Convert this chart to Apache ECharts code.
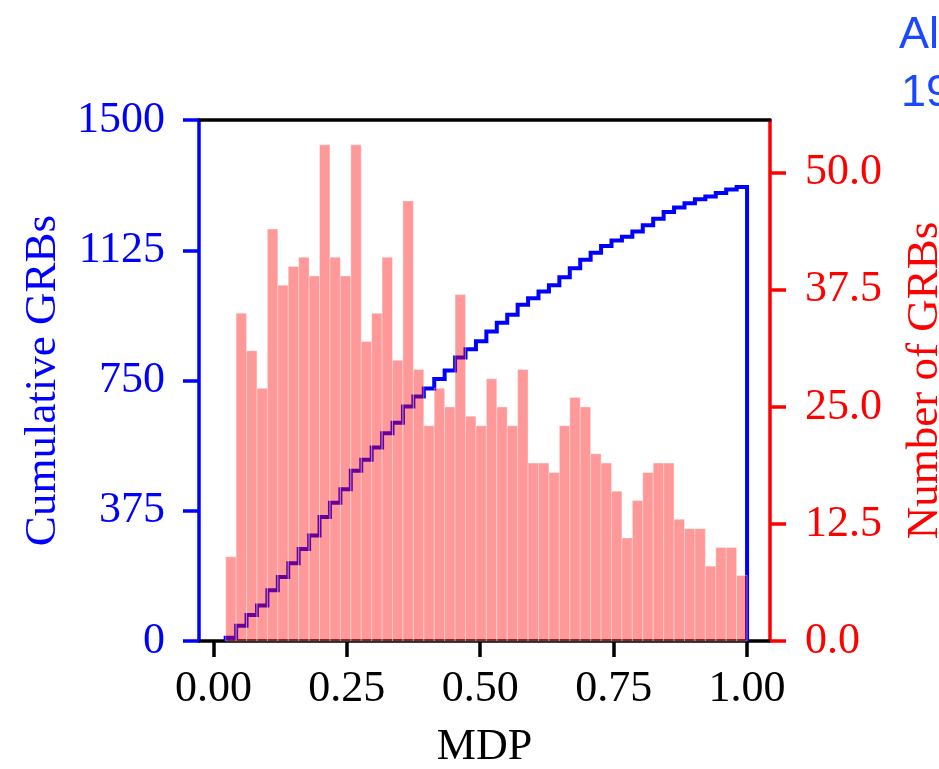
<!DOCTYPE html>
<html>
<head>
<meta charset="utf-8">
<script src="https://cdn.jsdelivr.net/npm/echarts@6/dist/echarts.min.js"></script>
<style>
html,body{margin:0;padding:0;background:#fff;}
#chart{width:939px;height:769px;}
</style>
</head>
<body>
<div id="chart"></div>
<script>
// ---- data ----
const MDP_MIN = 0.023;
const MDP_MAX = 1.0;
const counts = [9,35,31,27,44,38,40,41,39,53,41,39,53,32,35,41,30,47,29,23,
                27,25,37,24,23,28,25,23,29,19,19,18,23,26,25,20,19,16,11,15,
                18,19,19,13,12,12,8,10,10,7];
const xTicks = [0, 0.25, 0.5, 0.75, 1.0];
const cumTicks = [0, 375, 750, 1125, 1500];
const numTicks = [0, 12.5, 25, 37.5, 50];
const cornerText = ['Al', '19'];

// ---- derived ----
const binW = (MDP_MAX - MDP_MIN) / counts.length;
const edges = counts.map((_, i) => MDP_MIN + i * binW).concat([MDP_MAX]);
const barData = counts.map((c, i) => [edges[i], edges[i + 1], c]);
const cum = [];
counts.reduce((s, c) => { s += c; cum.push(s); return s; }, 0);
const stepData = [[edges[0], 0]];
cum.forEach((c, i) => stepData.push([edges[i + 1], c]));
stepData.push([edges[edges.length - 1], 0]);

const FONT = 'Liberation Serif';
const LW = 3.5;

const chart = echarts.init(document.getElementById('chart'), null, {renderer: 'canvas'});
chart.setOption({
  animation: false,
  backgroundColor: '#fff',
  grid: {left: 199, right: 169, top: 120, bottom: 128, containLabel: false, outerBoundsMode: 'none'},
  xAxis: [{
    type: 'value', min: -0.027, max: 1.043, position: 'bottom',
    name: 'MDP', nameLocation: 'middle', nameGap: 84,
    nameTextStyle: {fontFamily: FONT, fontSize: 44, color: '#000'},
    splitLine: {show: false},
    axisLine: {lineStyle: {color: '#000', width: LW}},
    axisTick: {show: true, length: 16, customValues: xTicks, lineStyle: {color: '#000', width: LW}},
    axisLabel: {customValues: xTicks, margin: 26, fontFamily: FONT, fontSize: 44, color: '#000',
      formatter: v => Number(v).toFixed(2)}
  }, {
    type: 'value', min: -0.027, max: 1.043, position: 'top',
    splitLine: {show: false},
    axisLine: {show: true, onZero: false, lineStyle: {color: '#000', width: LW}},
    axisTick: {show: false}, axisLabel: {show: false}
  }],
  yAxis: [{
    type: 'value', min: 0, max: 1500, position: 'left',
    name: 'Cumulative GRBs', nameLocation: 'middle', nameGap: 128, nameRotate: 90,
    nameTextStyle: {fontFamily: FONT, fontSize: 45, color: '#0000ff'},
    splitLine: {show: false},
    axisLine: {show: true, onZero: false, lineStyle: {color: '#0000ff', width: LW}},
    axisTick: {show: true, length: 16, customValues: cumTicks, lineStyle: {color: '#0000ff', width: LW}},
    axisLabel: {customValues: cumTicks, margin: 34, fontFamily: FONT, fontSize: 44, color: '#0000ff',
      formatter: v => String(v)}
  }, {
    type: 'value', min: 0, max: 55.65, position: 'right',
    name: 'Number of GRBs', nameLocation: 'middle', nameGap: 133, nameRotate: 90,
    nameTextStyle: {fontFamily: FONT, fontSize: 45, color: '#ff0000'},
    splitLine: {show: false},
    axisLine: {show: true, onZero: false, lineStyle: {color: '#ff0000', width: LW}},
    axisTick: {show: true, length: 16, customValues: numTicks, lineStyle: {color: '#ff0000', width: LW}},
    axisLabel: {customValues: numTicks, margin: 35, fontFamily: FONT, fontSize: 44, color: '#ff0000',
      formatter: v => Number(v).toFixed(1)}
  }],
  series: [{
    type: 'line', xAxisIndex: 0, yAxisIndex: 0, step: 'start',
    data: stepData, symbol: 'none', z: 2,
    lineStyle: {color: '#0000ff', width: 4, join: 'miter'}
  }, {
    type: 'custom', xAxisIndex: 0, yAxisIndex: 1, z: 3,
    data: barData,
    encode: {x: [0, 1], y: 2},
    renderItem: function (params, api) {
      const p0 = api.coord([api.value(0), 0]);
      const p1 = api.coord([api.value(1), api.value(2)]);
      return {
        type: 'rect',
        shape: {x: p0[0], y: p1[1], width: p1[0] - p0[0], height: p0[1] - p1[1]},
        style: {fill: 'rgba(255,0,0,0.4)', stroke: 'rgba(255,255,255,0.35)', lineWidth: 1}
      };
    }
  }],
  graphic: [
    {type: 'text', left: 899, top: 13, style: {text: cornerText[0], fontSize: 45, fontFamily: 'Liberation Sans', fill: '#1a47ff'}},
    {type: 'text', left: 901, top: 71, style: {text: cornerText[1], fontSize: 45, fontFamily: 'Liberation Sans', fill: '#1a47ff'}}
  ]
});
</script>
</body>
</html>
